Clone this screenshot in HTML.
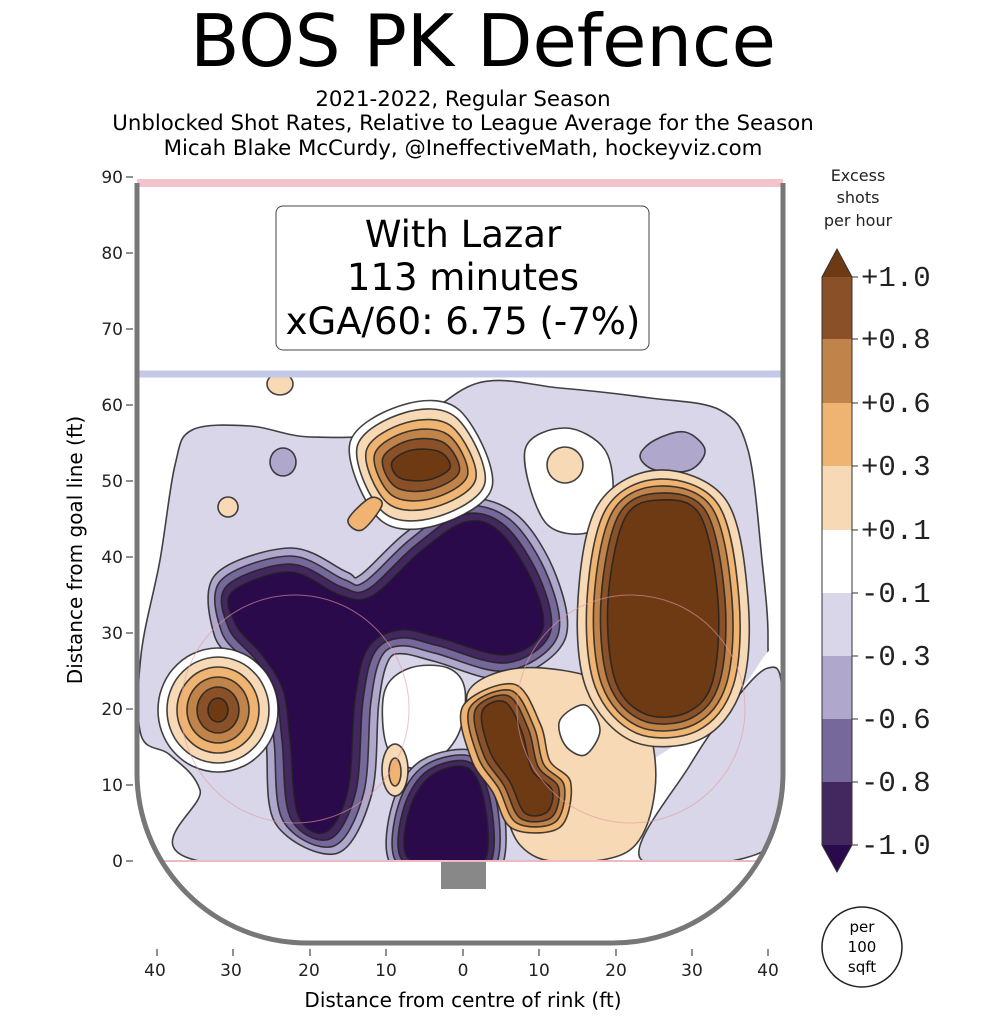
<!DOCTYPE html>
<html><head><meta charset="utf-8"><style>
body{margin:0;background:#fff}
svg text{font-family:"DejaVu Sans","Liberation Sans",sans-serif}
</style></head><body>
<svg id="s" width="987" height="1024" viewBox="0 0 987 1024" xmlns="http://www.w3.org/2000/svg">
<defs>
<clipPath id="rk"><path d="M139,186 V773 A168,168 0 0 0 307,941 H613 A168,168 0 0 0 781,773 V186 Z"/></clipPath>
<clipPath id="gl"><rect x="130" y="180" width="660" height="682"/></clipPath>
</defs>
<text x="483" y="66" font-size="72" text-anchor="middle">BOS PK Defence</text>
<text x="463" y="106" font-size="21.3" text-anchor="middle">2021-2022, Regular Season</text>
<text x="463" y="130" font-size="21.3" text-anchor="middle">Unblocked Shot Rates, Relative to League Average for the Season</text>
<text x="463" y="155" font-size="21.3" text-anchor="middle">Micah Blake McCurdy, @IneffectiveMath, hockeyviz.com</text>
<g clip-path="url(#rk)"><g clip-path="url(#gl)" id="heat"></g></g>
<g clip-path="url(#rk)" fill="none">
<circle cx="295" cy="709" r="114" stroke="#e49aa4" stroke-width="1" opacity=".6"/>
<circle cx="631" cy="709" r="114" stroke="#e49aa4" stroke-width="1" opacity=".6"/>
<line x1="160" y1="861" x2="765" y2="861" stroke="#f0b8c0" stroke-width="2"/>
<line x1="137" y1="374" x2="783" y2="374" stroke="#c3c9e6" stroke-width="7"/>
</g>
<line x1="137" y1="183" x2="783" y2="183" stroke="#f3c3cb" stroke-width="8"/>
<rect x="441" y="862" width="45" height="27" fill="#888"/>
<path d="M137,183 V773 A170,170 0 0 0 307,943 H613 A170,170 0 0 0 783,773 V183" fill="none" stroke="#777" stroke-width="5"/>
<g font-size="17" text-anchor="end" fill="#222">
<text x="123" y="183">90</text><text x="123" y="259">80</text><text x="123" y="335">70</text><text x="123" y="411">60</text><text x="123" y="487">50</text><text x="123" y="563">40</text><text x="123" y="639">30</text><text x="123" y="715">20</text><text x="123" y="791">10</text><text x="123" y="867">0</text>
</g>
<g stroke="#222" stroke-width="1">
<line x1="126" y1="177" x2="133" y2="177"/><line x1="126" y1="253" x2="133" y2="253"/><line x1="126" y1="329" x2="133" y2="329"/><line x1="126" y1="405" x2="133" y2="405"/><line x1="126" y1="481" x2="133" y2="481"/><line x1="126" y1="557" x2="133" y2="557"/><line x1="126" y1="633" x2="133" y2="633"/><line x1="126" y1="709" x2="133" y2="709"/><line x1="126" y1="785" x2="133" y2="785"/><line x1="126" y1="861" x2="133" y2="861"/>
<line x1="157" y1="949" x2="157" y2="956"/><line x1="233" y1="949" x2="233" y2="956"/><line x1="310" y1="949" x2="310" y2="956"/><line x1="386" y1="949" x2="386" y2="956"/><line x1="463" y1="949" x2="463" y2="956"/><line x1="539" y1="949" x2="539" y2="956"/><line x1="616" y1="949" x2="616" y2="956"/><line x1="692" y1="949" x2="692" y2="956"/><line x1="768" y1="949" x2="768" y2="956"/>
</g>
<g font-size="17" text-anchor="middle" fill="#222">
<text x="155" y="976">40</text><text x="231" y="976">30</text><text x="309" y="976">20</text><text x="386" y="976">10</text><text x="463" y="976">0</text><text x="539" y="976">10</text><text x="616" y="976">20</text><text x="692" y="976">30</text><text x="768" y="976">40</text>
</g>
<text x="463" y="1007" font-size="20" text-anchor="middle">Distance from centre of rink (ft)</text>
<text transform="translate(82,550) rotate(-90)" font-size="20" text-anchor="middle">Distance from goal line (ft)</text>
<rect x="276" y="206" width="373" height="144" rx="7" fill="#fff" stroke="#444" stroke-width="1"/>
<text x="463" y="247" font-size="37" text-anchor="middle">With Lazar</text>
<text x="463" y="290" font-size="37" text-anchor="middle">113 minutes</text>
<text x="463" y="334" font-size="37" text-anchor="middle">xGA/60: 6.75 (-7%)</text>
<g font-size="16" text-anchor="middle" fill="#222">
<text x="858" y="181">Excess</text><text x="858" y="203">shots</text><text x="858" y="226">per hour</text>
</g>
<g stroke="none">
<polygon points="822,277 837,249 852,277" fill="#6e3a13"/>
<rect x="822" y="277" width="30" height="62" fill="#8a5128"/>
<rect x="822" y="339" width="30" height="64" fill="#c0844a"/>
<rect x="822" y="403" width="30" height="63" fill="#f0b472"/>
<rect x="822" y="466" width="30" height="64" fill="#f7d9b5"/>
<rect x="822" y="530" width="30" height="63" fill="#ffffff"/>
<rect x="822" y="593" width="30" height="63" fill="#d8d6e8"/>
<rect x="822" y="656" width="30" height="63" fill="#b0a8cc"/>
<rect x="822" y="719" width="30" height="63" fill="#77689c"/>
<rect x="822" y="782" width="30" height="63" fill="#42285e"/>
<polygon points="822,845 837,872 852,845" fill="#2a0a4a"/>
</g>
<polygon points="822,277 837,249 852,277 852,845 837,872 822,845" fill="none" stroke="#333" stroke-width="1"/>
<g stroke="#333"><line x1="852" y1="277" x2="858" y2="277"/><line x1="852" y1="339" x2="858" y2="339"/><line x1="852" y1="403" x2="858" y2="403"/><line x1="852" y1="466" x2="858" y2="466"/><line x1="852" y1="530" x2="858" y2="530"/><line x1="852" y1="593" x2="858" y2="593"/><line x1="852" y1="656" x2="858" y2="656"/><line x1="852" y1="719" x2="858" y2="719"/><line x1="852" y1="782" x2="858" y2="782"/><line x1="852" y1="845" x2="858" y2="845"/></g>
<g font-size="29" fill="#222">
<text x="861" y="286" style="font-family:'Liberation Mono',monospace">+1.0</text>
<text x="861" y="348" style="font-family:'Liberation Mono',monospace">+0.8</text>
<text x="861" y="412" style="font-family:'Liberation Mono',monospace">+0.6</text>
<text x="861" y="475" style="font-family:'Liberation Mono',monospace">+0.3</text>
<text x="861" y="539" style="font-family:'Liberation Mono',monospace">+0.1</text>
<text x="861" y="602" style="font-family:'Liberation Mono',monospace">-0.1</text>
<text x="861" y="665" style="font-family:'Liberation Mono',monospace">-0.3</text>
<text x="861" y="728" style="font-family:'Liberation Mono',monospace">-0.6</text>
<text x="861" y="791" style="font-family:'Liberation Mono',monospace">-0.8</text>
<text x="861" y="854" style="font-family:'Liberation Mono',monospace">-1.0</text>
</g>
<circle cx="862" cy="947" r="40" fill="#fff" stroke="#222" stroke-width="1.5"/>
<g font-size="15" text-anchor="middle"><text x="862" y="932">per</text><text x="862" y="952">100</text><text x="862" y="972">sqft</text></g>
</svg>
<script>
var NS="http://www.w3.org/2000/svg",H=document.getElementById("heat");
function area(p){var a=0;for(var i=0;i<p.length;i++){var q=p[(i+1)%p.length];a+=p[i][0]*q[1]-q[0]*p[i][1];}return Math.abs(a/2);}
function off1(p,d){var n=p.length,r=[];for(var i=0;i<n;i++){var a=p[(i-1+n)%n],b=p[(i+1)%n],tx=b[0]-a[0],ty=b[1]-a[1],l=Math.hypot(tx,ty)||1;r.push([p[i][0]-ty/l*d,p[i][1]+tx/l*d]);}return r;}
function off(p,d){if(d===0)return p;var s=area(off1(p,1))>area(p)?1:-1;return off1(p,s*d);}
function path(p){var n=p.length,d="M"+p[0][0]+","+p[0][1];for(var i=0;i<n;i++){var p0=p[(i-1+n)%n],p1=p[i],p2=p[(i+1)%n],p3=p[(i+2)%n];d+="C"+(p1[0]+(p2[0]-p0[0])/6)+","+(p1[1]+(p2[1]-p0[1])/6)+" "+(p2[0]-(p3[0]-p1[0])/6)+","+(p2[1]-(p3[1]-p1[1])/6)+" "+p2[0]+","+p2[1];}return d+"Z";}
function add(p,f,st){var e=document.createElementNS(NS,"path");e.setAttribute("d",path(p));e.setAttribute("fill",f);if(st!==false){e.setAttribute("stroke","#222");e.setAttribute("stroke-width","1.6");e.setAttribute("stroke-opacity",".85");}H.appendChild(e);}
function ell(cx,cy,rx,ry){var r=[];for(var i=0;i<16;i++){var t=i/16*2*Math.PI;r.push([cx+rx*Math.cos(t),cy+ry*Math.sin(t)]);}return r;}
function stack(core,cols,offs){for(var i=0;i<cols.length;i++)add(off(core,offs[i]),cols[i]);}
var L1="#d8d6e8",L2="#b0a8cc",L3="#77689c",L4="#42285e",L5="#2a0a4a",W="#ffffff";
var B0="#6e3a13",B1="#8a5128",B2="#c0844a",B3="#f0b472",B4="#f7d9b5";
add([[141,655],[160,560],[175,465],[192,430],[250,426],[311,437],[400,430],[478,383],[560,388],[650,398],[720,410],[748,450],[762,560],[768,640],[760,700],[700,760],[640,860],[205,862],[200,790],[170,755],[141,735]],L1);
add([[525,450],[565,428],[605,450],[612,500],[590,532],[545,522]],W);
add([[600,800],[690,735],[740,690],[770,650],[790,650],[790,870],[600,870]],W,false);
add([[640,858],[690,765],[735,700],[768,668],[782,690],[778,820],[745,858]],L1);
add([[655,440],[685,432],[705,450],[690,470],[655,470],[640,456]],L2);
add(ell(283,462,13,14),L2);
var core=[[232,592],[290,572],[340,595],[372,596],[420,552],[465,522],[500,532],[534,585],[542,632],[505,655],[440,638],[400,630],[368,648],[355,700],[348,790],[326,832],[298,815],[290,740],[283,690],[262,655],[236,625]];
stack(core,[L2,L3,L4,L5],[24,16,8,0]);
add([[385,690],[410,668],[448,668],[465,690],[458,735],[430,765],[402,765],[385,740]],W);
var c2=[[410,808],[432,775],[468,768],[485,805],[484,862],[440,868],[406,855]];
stack(c2,[L2,L3,L4,L5],[18,12,6,0]);
add([[468,692],[520,668],[600,680],[645,720],[655,790],[630,850],[560,862],[520,845],[500,795],[482,745]],B4);
add([[560,720],[585,705],[600,730],[585,755],[565,745]],W);
var rb=[[625,518],[660,500],[700,515],[718,600],[713,680],[688,712],[645,714],[615,680],[608,600]];
stack(rb,[B4,B3,B2,B1,B0],[30,21,14,7,0]);
var mb=[[482,712],[505,702],[522,732],[532,770],[552,790],[547,812],[525,813],[510,782],[490,752]];
stack(mb,[B3,B2,B1,B0],[20,13,7,0]);
var tb=[[392,462],[412,450],[440,452],[450,468],[428,480],[400,478]];
stack(tb,[W,B4,B3,B2,B1,B0],[46,38,28,19,10,0]);
add([[348,520],[370,498],[382,505],[362,530]],B3);
var lb=ell(218,710,10,12);
stack(lb,[W,B4,B3,B2,B1,B0],[50,41,31,21,11,0]);
add(ell(280,384,13,11),B4);add(ell(228,507,10,10),B4);add(ell(565,465,18,18),B4);
add(ell(395,770,13,26),B4);add(ell(395,772,6,14),B3);
</script>
</body></html>
